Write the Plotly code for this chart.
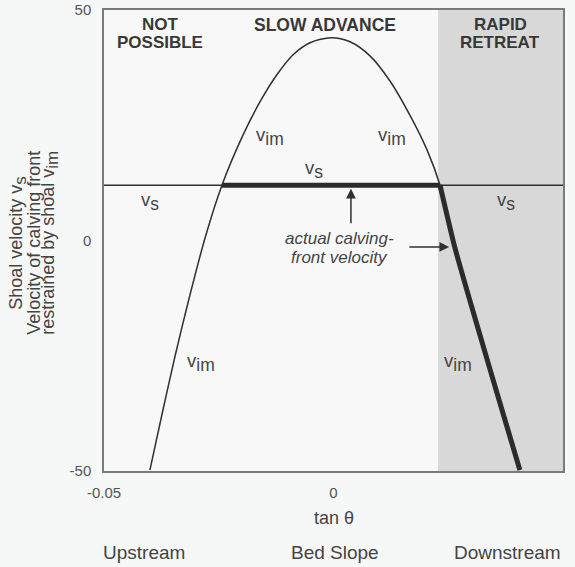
import plotly.graph_objects as go

# ---- data ----
# v_im curve (tan theta, velocity)
curve_x = [-0.0400, -0.0371, -0.0345, -0.0317, -0.0280, -0.0243, -0.0197, -0.0160, -0.0123,
           -0.0088, -0.0051, -0.0005, 0.0036, 0.0080, 0.0123, 0.0167, 0.0204, 0.0232,
           0.0264, 0.0300, 0.0337, 0.0372, 0.0406]
curve_v = [-49.8, -36.5, -25.0, -13.5, 0.5, 12.0, 22.9, 30.1, 36.0,
           40.3, 42.9, 44.0, 43.1, 40.0, 34.6, 27.1, 19.6, 12.0,
           -1.4, -14.0, -26.6, -38.4, -49.8]
# shoal velocity
v_s = 12.0
vs_x = [-0.05, 0.05]
# actual calving-front velocity: along v_s between the crossings, then down v_im
front_flat_x = [-0.0243, 0.0232]
front_drop_x = [0.0232, 0.0264, 0.0300, 0.0337, 0.0372, 0.0406]
front_drop_v = [12.0, -1.4, -14.0, -26.6, -38.4, -49.8]
# rapid retreat region
retreat_x = [0.0228, 0.05]
# axes
x_range = [-0.05, 0.05]
y_range = [-50, 50]
x_ticks = [-0.05, 0, 0.05]
x_ticktext = ["-0.05", "0", "0.05"]
y_ticks = [-50, 0, 50]
y_ticktext = ["-50", "0", "50"]
bottom_labels = ["Upstream", "Bed Slope", "Downstream"]
bottom_x = [-0.0413, 0.0003, 0.038]

LINE = "#303030"
TXT = "#444444"
FONT = "Liberation Sans, Arial, sans-serif"

fig = go.Figure()

fig.add_shape(type="rect", xref="x", yref="y", x0=retreat_x[0], x1=retreat_x[1],
              y0=y_range[0], y1=y_range[1], fillcolor="#d8d8d8", line_width=0, layer="below")

fig.add_trace(go.Scatter(x=vs_x, y=[v_s, v_s], mode="lines",
                         line=dict(color=LINE, width=1.5), hoverinfo="skip", showlegend=False))
fig.add_trace(go.Scatter(x=curve_x, y=curve_v, mode="lines",
                         line=dict(color=LINE, width=1.5, shape="spline", smoothing=0.8),
                         hoverinfo="skip", showlegend=False))
fig.add_trace(go.Scatter(x=front_flat_x, y=[v_s, v_s], mode="lines",
                         line=dict(color="#2b2b2b", width=5), hoverinfo="skip", showlegend=False))
fig.add_trace(go.Scatter(x=front_drop_x, y=front_drop_v, mode="lines",
                         line=dict(color="#2b2b2b", width=5, shape="spline", smoothing=0.6),
                         hoverinfo="skip", showlegend=False))

def vsub(sub, size=18):
    return f"v<sub><span style='font-size:{size-1}px'>{sub}</span></sub>"

ann = []
def add(text, x, y, size=16, bold=False, italic=False, color=TXT, **kw):
    t = text
    if bold:
        t = f"<b>{t}</b>"
    if italic:
        t = f"<i>{t}</i>"
    ann.append(dict(text=t, x=x, y=y, xref=kw.pop("xref", "x"), yref=kw.pop("yref", "y"),
                    xanchor="center", yanchor="middle",
                    showarrow=False, font=dict(size=size, color=color, family=FONT), **kw))

# region headings
HC = "#383838"
add("NOT", -0.0378, 46.9, 17, bold=True, color=HC)
add("POSSIBLE", -0.0378, 42.9, 17, bold=True, color=HC)
add("SLOW ADVANCE", -0.0019, 46.7, 17.5, bold=True, color=HC)
add("RAPID", 0.0363, 46.9, 17, bold=True, color=HC)
add("RETREAT", 0.0363, 42.9, 17, bold=True, color=HC)

# curve labels
for (x, y) in [(-0.0138, 22.5), (0.0127, 22.5), (-0.0289, -26.4), (0.0271, -26.4)]:
    add(vsub("im", 18.5), x, y, 18.5)
for (x, y) in [(-0.040, 8.4), (-0.0042, 15.3), (0.0376, 8.4)]:
    add(vsub("s", 18.5), x, y, 18.5)

# actual calving-front velocity
add("actual calving-", 0.0014, 0.4, 17, italic=True)
add("front velocity", 0.0014, -3.6, 17, italic=True)

# axis titles / bottom labels
add("tan θ", 0.0, -0.102, 18, yref="paper")
for lab, bx in zip(bottom_labels, bottom_x):
    add(lab, bx, -0.176, 19, yref="paper")

ytitle = ["Shoal velocity " + vsub("s", 18), "Velocity of calving front",
          "restrained by shoal " + vsub("im", 18)]
for i, line in enumerate(ytitle):
    ann.append(dict(text=line, x=0, y=0.495, xref="paper", yref="paper", xanchor="center",
                    yanchor="middle", xshift=[18, 34, 50][i] - 104, textangle=-90, showarrow=False,
                    font=dict(size=18, color=TXT, family=FONT)))

# arrows
ann.append(dict(x=0.0038, y=11.2, ax=0.0038, ay=3.4, xref="x", yref="y", axref="x", ayref="y",
                text="", showarrow=True, arrowhead=2, arrowsize=1.3, arrowwidth=1.5, arrowcolor=LINE))
ann.append(dict(x=0.0252, y=-1.4, ax=0.0162, ay=-1.4, xref="x", yref="y", axref="x", ayref="y",
                text="", showarrow=True, arrowhead=2, arrowsize=1.3, arrowwidth=1.5, arrowcolor=LINE))

fig.update_layout(
    width=575, height=567,
    margin=dict(l=104, r=12, t=10, b=96, autoexpand=False),
    paper_bgcolor="#f6f7f7", plot_bgcolor="#f8f8f8",
    annotations=ann,
    font=dict(family=FONT, color=TXT),
)
fig.update_xaxes(range=x_range, tickvals=x_ticks, ticktext=x_ticktext, showgrid=False, zeroline=False,
                 showline=True, mirror=True, linecolor="#7a7a7a", linewidth=1.5, automargin=False,
                 ticks="outside", ticklen=7, tickcolor="rgba(0,0,0,0)",
                 tickfont=dict(size=15, color="#555555", family=FONT))
fig.update_yaxes(range=y_range, tickvals=y_ticks, ticktext=y_ticktext, showgrid=False, zeroline=False,
                 showline=True, mirror=True, linecolor="#7a7a7a", linewidth=1.5, automargin=False,
                 ticks="outside", ticklen=8, tickcolor="rgba(0,0,0,0)",
                 tickfont=dict(size=15, color="#555555", family=FONT))

fig.write_html("out.html", config={"displayModeBar": False},
               post_script="document.body.style.margin='0';document.body.style.background='#f6f7f7';")
